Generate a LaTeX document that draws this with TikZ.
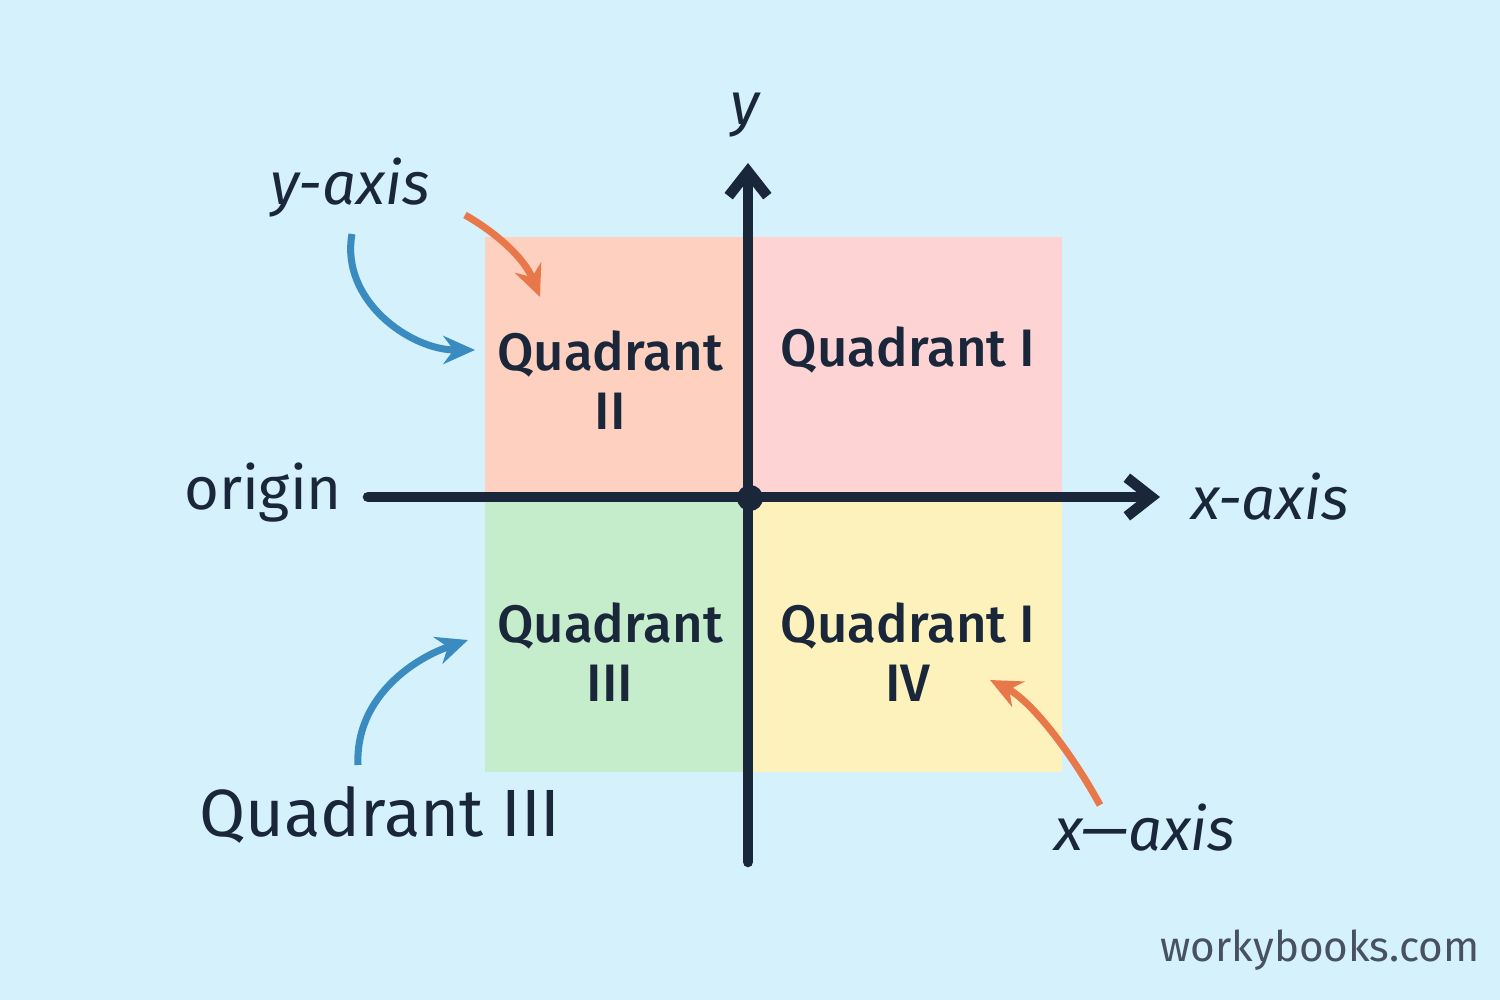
\documentclass[tikz,border=0pt]{standalone}
\usepackage{fontspec}
\setmainfont{Fira Sans}
\newfontfamily\medf{Fira Sans Medium}
\usetikzlibrary{arrows.meta}
\definecolor{bg}{HTML}{D4F1FC}
\definecolor{qone}{HTML}{FDD3D3}
\definecolor{qtwo}{HTML}{FDD0C0}
\definecolor{qthree}{HTML}{C5EDCB}
\definecolor{qfour}{HTML}{FDF2BC}
\definecolor{ink}{HTML}{1A2639}
\definecolor{blu}{HTML}{3A8CC0}
\definecolor{org}{HTML}{E8784A}
\tikzset{
  axis/.style={ink, line width=3pt, line cap=round},
  qlabel/.style={text=ink, font=\medf\fontsize{15}{19}\selectfont, align=center},
  bigl/.style={text=ink, font=\fontsize{17}{20}\selectfont},
  callb/.style={blu, line width=2pt, -{Stealth[length=9pt,width=8pt]}},
  callo/.style={org, line width=2pt, -{Stealth[length=9pt,width=8pt]}}
}
\begin{document}
\begin{tikzpicture}[x=0.01cm,y=-0.01cm]
\fill[bg] (0,0) rectangle (1500,1000);
\useasboundingbox (0,0) rectangle (1500,1000);
\fill[qtwo] (485,237) rectangle (748,497);
\fill[qone] (748,237) rectangle (1062,497);
\fill[qthree] (485,497) rectangle (748,772);
\fill[qfour] (748,497) rectangle (1062,772);
\coordinate (vb) at (748,862);
\coordinate (vt) at (748,163);
\coordinate (hl) at (368,497);
\coordinate (hr) at (1160,497);
\draw[axis, -{Straight Barb[length=7pt,width=11pt]}] (vb) -- (vt);
\draw[axis, -{Straight Barb[length=7pt,width=11pt]}] (hl) -- (hr);
\fill[ink] (750,498) circle[radius=0.13cm];
\node[qlabel] (q2) at (610,380) {Quadrant\\[-2pt]II};
\node[qlabel] (q1) at (908,350) {Quadrant I};
\node[qlabel] (q3) at (610,652) {Quadrant\\[-2pt]III};
\node[qlabel] (q4) at (908,652) {Quadrant I\\[-2pt]IV};
\node[bigl, font=\fontsize{17}{20}\selectfont\itshape] (y) at (745,115) {y};
\node[bigl, font=\fontsize{17}{20}\selectfont\itshape] (ya) at (350,188) {y-axis};
\node[bigl] (or) at (263,493) {origin};
\node[bigl, font=\fontsize{17}{20}\selectfont\itshape] (xa) at (1270,497) {x-axis};
\node[bigl, font=\fontsize{19}{22}\selectfont] (q3b) at (380,815) {Quadrant III};
\node[bigl, font=\fontsize{17}{20}\selectfont\itshape] (xb) at (1145,828) {x—axis};
\node[text=ink!80, font=\fontsize{12}{14}\selectfont] (wb) at (1320,950) {workybooks.com};
\coordinate (a1s) at (352,234); \coordinate (a1e) at (475,350);
\coordinate (a2s) at (465,215); \coordinate (a2e) at (540,297);
\coordinate (a3s) at (358,765); \coordinate (a3e) at (468,640);
\coordinate (a4s) at (1100,805); \coordinate (a4e) at (990,680);
\draw[callb] (a1s) .. controls (340,300) and (410,350) .. (a1e);
\draw[callo] (a2s) .. controls (500,235) and (525,260) .. (a2e);
\draw[callb] (a3s) .. controls (355,700) and (410,660) .. (a3e);
\draw[callo] (a4s) .. controls (1070,750) and (1030,700) .. (a4e);
\end{tikzpicture}
\end{document}
